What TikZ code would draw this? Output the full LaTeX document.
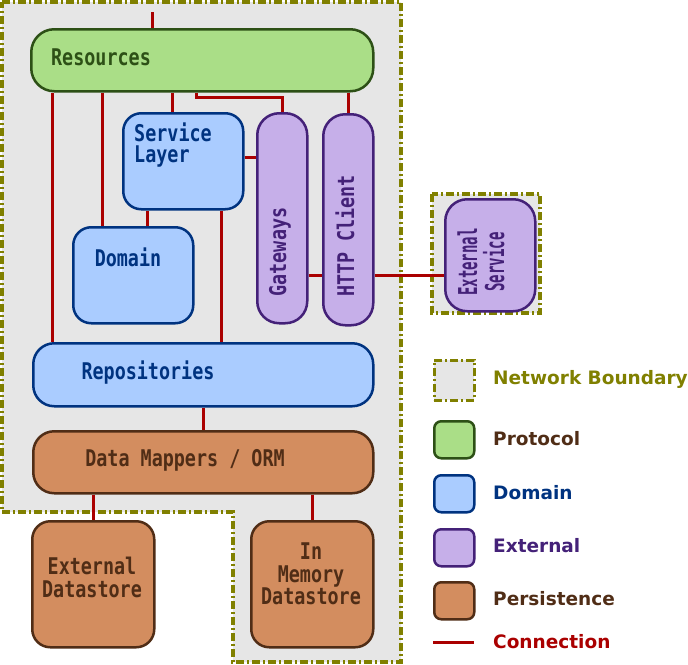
\documentclass[tikz,border=0pt]{standalone}
\usepackage{fontspec}
\usetikzlibrary{calc}
\newfontfamily\boxfont[FakeStretch=0.8]{DejaVu Sans Mono}
\newfontfamily\extfont[FakeStretch=0.54]{DejaVu Sans Mono}
\newfontfamily\legendfont{DejaVu Sans}
\definecolor{zonegray}{HTML}{E6E6E6}
\definecolor{olive}{HTML}{808000}
\definecolor{protofill}{HTML}{AADE87}
\definecolor{protoline}{HTML}{2D5016}
\definecolor{domfill}{HTML}{AACCFF}
\definecolor{domline}{HTML}{003380}
\definecolor{extfill}{HTML}{C6AFE9}
\definecolor{extline}{HTML}{442178}
\definecolor{persfill}{HTML}{D38D5F}
\definecolor{persline}{HTML}{502D16}
\definecolor{wire}{HTML}{AA0000}
\pgfdeclarelayer{back}
\pgfdeclarelayer{wires}
\pgfsetlayers{back,wires,main}

\begin{document}
\begin{tikzpicture}[x=1pt,y=-1pt,
  zone/.style={fill=zonegray,draw=olive,line width=3.5pt,
    dash pattern=on 8pt off 3pt on 2pt off 3pt},
  boxbase/.style={rectangle,rounded corners=18pt,line width=2.5pt,anchor=north west,inner sep=0pt},
  protocol/.style={boxbase,fill=protofill,draw=protoline},
  domainbox/.style={boxbase,fill=domfill,draw=domline},
  external/.style={boxbase,fill=extfill,draw=extline},
  persist/.style={boxbase,fill=persfill,draw=persline},
  conn/.style={draw=wire,line width=3pt},
  boxtext/.style={font=\boxfont\bfseries\fontsize{23}{21}\selectfont,inner sep=0pt},
  legbox/.style={rectangle,rounded corners=7pt,line width=2.5pt,anchor=north west,
    minimum width=40pt,minimum height=37pt,inner sep=0pt},
  legtext/.style={font=\legendfont\bfseries\fontsize{18.5}{20}\selectfont,anchor=west,inner sep=0pt}]

\useasboundingbox (0,0) rectangle (688,664);

% network boundaries
\begin{pgfonlayer}{back}
\draw[zone] (2,2) -- (401,2) -- (401,662) -- (233,662) -- (233,512) -- (2,512) -- cycle;
\draw[zone] (432,194) rectangle (540,313);
\end{pgfonlayer}

% boxes
\node[protocol,rounded corners=23pt,minimum width=342pt,minimum height=62pt] (resources) at (30,28) {};
\node[domainbox,minimum width=120pt,minimum height=96pt] (service) at (122,112) {};
\node[domainbox,minimum width=120pt,minimum height=96pt] (domain) at (72,226) {};
\node[external,rounded corners=22pt,minimum width=50pt,minimum height=210pt] (gateways) at (256,112) {};
\node[external,rounded corners=22pt,minimum width=50pt,minimum height=211pt] (http) at (322,113) {};
\node[external,rounded corners=22pt,minimum width=90pt,minimum height=112pt] (extsvc) at (444,198) {};
\node[domainbox,rounded corners=21pt,minimum width=340pt,minimum height=63pt] (repos) at (32,342) {};
\node[persist,rounded corners=21pt,minimum width=340pt,minimum height=62pt] (mappers) at (32,430) {};
\node[persist,minimum width=122pt,minimum height=126pt] (extstore) at (31,520) {};
\node[persist,minimum width=122pt,minimum height=126pt] (memstore) at (250,520) {};

% box texts
\node[boxtext,text=protoline] (resources-t) at (101,57) {Resources};
\node[boxtext,text=domline,anchor=west,align=left] (service-t) at (134,145) {Service\\Layer};
\node[boxtext,text=domline] (domain-t) at (128,257) {Domain};
\node[boxtext,text=extline,rotate=90] (gateways-t) at (280,252) {Gateways};
\node[boxtext,text=extline,rotate=90] (http-t) at (345,236) {HTTP Client};
\node[boxtext,font=\extfont\bfseries\fontsize{26}{27}\selectfont,text=extline,rotate=90,align=center] (extsvc-t) at (481,262) {External\\Service};
\node[boxtext,text=domline] (repos-t) at (148,373) {Repositories};
\node[boxtext,text=persline] (mappers-t) at (185,460) {Data Mappers / ORM};
\node[boxtext,font=\boxfont\bfseries\fontsize{23}{23}\selectfont,text=persline,align=center] (extstore-t) at (92,577) {External\\Datastore};
\node[boxtext,font=\boxfont\bfseries\fontsize{23}{22.5}\selectfont,text=persline,align=center] (memstore-t) at (311,574) {In\\Memory\\Datastore};

% connections
\coordinate (entry) at (152,12);
\begin{pgfonlayer}{wires}
\draw[conn] (entry) -- (entry |- resources.north);
\draw[conn] ([xshift=22pt]resources.south west) -- ([xshift=20pt]repos.north west);
\draw[conn] ([xshift=72pt]resources.south west) -- ([xshift=30pt]domain.north west);
\draw[conn] ([xshift=142pt]resources.south west) -- ([xshift=50pt]service.north west);
\draw[conn] ([xshift=166pt]resources.south west) |- ([yshift=15pt]gateways.north) -- (gateways.north);
\draw[conn] (http.north |- resources.south) -- (http.north);
\draw[conn] ([yshift=4pt]service.east) -- ([yshift=4pt]service.east -| gateways.west);
\draw[conn] ([xshift=25pt]service.south west) -- ([xshift=25pt]service.south west |- domain.north);
\draw[conn] ([xshift=99pt]service.south west) -- ([xshift=99pt]service.south west |- repos.north);
\draw[conn] ([yshift=-57pt]gateways.east) -- ([yshift=-57pt]gateways.east -| http.west);
\draw[conn] ([yshift=-55.5pt]http.east) -- ([yshift=-55.5pt]http.east -| extsvc.west);
\draw[conn] (repos.south) -- (mappers.north);
\draw[conn] (extstore.north |- mappers.south) -- (extstore.north);
\draw[conn] (memstore.north |- mappers.south) -- (memstore.north);
\end{pgfonlayer}

% legend
\node[legbox,zone,rounded corners=0pt,minimum height=40pt,line width=2.5pt] (lg-zone) at (433,359) {};
\node[legbox,fill=protofill,draw=protoline] (lg-proto) at (433,420) {};
\node[legbox,fill=domfill,draw=domline] (lg-dom) at (433,474) {};
\node[legbox,fill=extfill,draw=extline] (lg-ext) at (433,528) {};
\node[legbox,fill=persfill,draw=persline] (lg-pers) at (433,581) {};
\coordinate (lg-wire-a) at (433,642);
\coordinate (lg-wire-b) at (474,642);
\draw[conn] (lg-wire-a) -- (lg-wire-b);

\node[legtext,text=olive] (lg-zone-t) at (493,379) {Network Boundary};
\node[legtext,text=persline] (lg-proto-t) at (493,439) {Protocol};
\node[legtext,text=domline] (lg-dom-t) at (493,493) {Domain};
\node[legtext,text=extline] (lg-ext-t) at (493,546) {External};
\node[legtext,text=persline] (lg-pers-t) at (493,599) {Persistence};
\node[legtext,text=wire] (lg-wire-t) at (493,642) {Connection};

\end{tikzpicture}
\end{document}
